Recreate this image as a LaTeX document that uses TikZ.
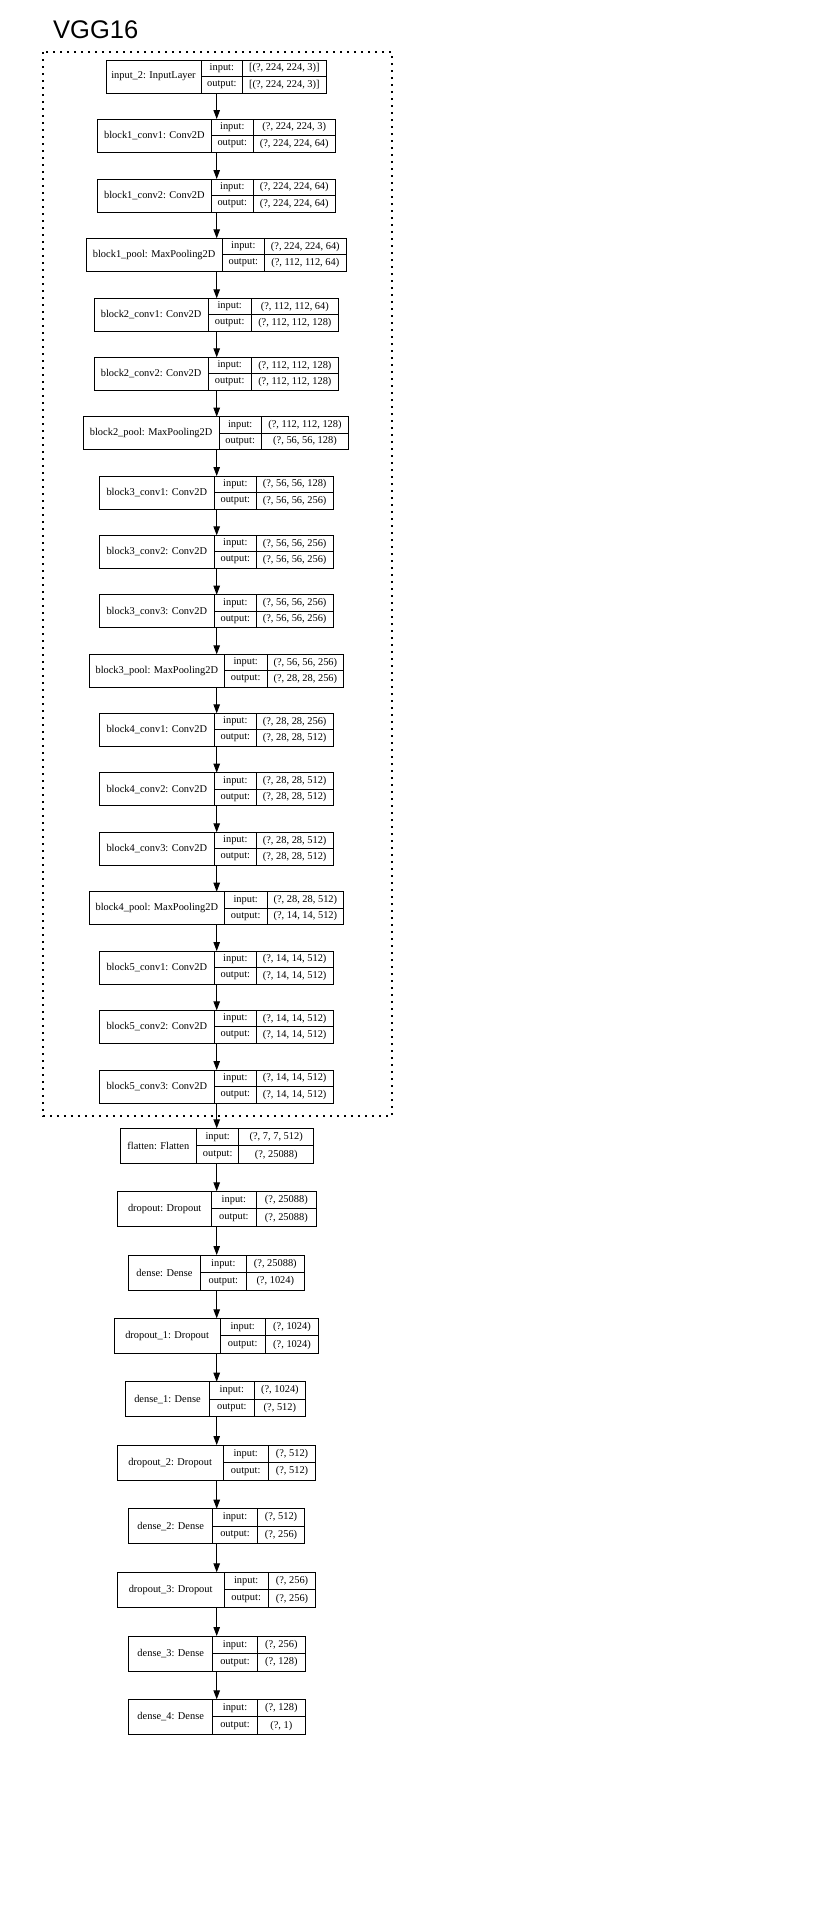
\documentclass[tikz,border=0pt]{standalone}
\usepackage{fontspec}
\setmainfont{Liberation Serif}
\setsansfont{Liberation Sans}
\usetikzlibrary{arrows.meta}
\newcommand\myrecH{33}
\newcommand\mkrec[9]{%
  \pgfmathsetmacro\myrT{-#2}%
  \pgfmathsetmacro\myrB{-#2-\myrecH}%
  \pgfmathsetmacro\myrM{-#2-\myrecH/2}%
  \pgfmathsetmacro\myrU{-#2-\myrecH/4}%
  \pgfmathsetmacro\myrL{-#2-3*\myrecH/4}%
  \pgfmathsetmacro\myrW{#6-#3}%
  \node[recbox, minimum width=\myrW pt, minimum height=\myrecH pt, anchor=north west] (#1) at (#3,\myrT) {};
  \draw[recline] (#4,\myrT) -- (#4,\myrB) (#5,\myrT) -- (#5,\myrB) (#4,\myrM) -- (#6,\myrM);
  \node[rectxt] (#1-l) at ({(#3+#4)/2},\myrM) {#7};
  \node[rectxt] (#1-i) at ({(#4+#5)/2},\myrU) {input:};
  \node[rectxt] (#1-o) at ({(#4+#5)/2},\myrL) {output:};
  \node[rectxt] (#1-iv) at ({(#5+#6)/2},\myrU) {#8};
  \node[rectxt] (#1-ov) at ({(#5+#6)/2},\myrL) {#9};
}
\begin{document}
\begin{tikzpicture}[x=1pt,y=1pt,
  recbox/.style={draw, line width=0.9pt, inner sep=0pt, outer sep=0pt},
  recline/.style={line width=0.8pt},
  rectxt/.style={inner sep=0pt, font=\fontsize{10.4}{12}\selectfont},
  arr/.style={-{Triangle[length=9pt,width=6.5pt]}, line width=0.9pt},
  dotbox/.style={line width=1.8pt, dash pattern=on 1.8pt off 5.2pt},
  titletxt/.style={inner sep=0pt, anchor=base west, font=\sffamily\fontsize{25.5}{30}\selectfont}]
\useasboundingbox[fill=white] (0,0) rectangle (816,-1920);
\node[titletxt] (title) at (53,-38) {VGG16};
\draw[dotbox] (43,-52) rectangle (392,-1116);
\coordinate (axis) at (216.7,0);
% inner model
\mkrec{in2}{60}{106}{201}{242.7}{326}{input\_2: InputLayer}{[(?, 224, 224, 3)]}{[(?, 224, 224, 3)]}
\mkrec{b1c1}{119}{97.3}{211.5}{253}{335.5}{block1\_conv1: Conv2D}{(?, 224, 224, 3)}{(?, 224, 224, 64)}
\mkrec{b1c2}{179}{97.3}{211.5}{253}{335.5}{block1\_conv2: Conv2D}{(?, 224, 224, 64)}{(?, 224, 224, 64)}
\mkrec{b1p}{238.3}{86}{222.3}{264.3}{346.3}{block1\_pool: MaxPooling2D}{(?, 224, 224, 64)}{(?, 112, 112, 64)}
\mkrec{b2c1}{298.3}{94}{208.3}{251}{338.7}{block2\_conv1: Conv2D}{(?, 112, 112, 64)}{(?, 112, 112, 128)}
\mkrec{b2c2}{357.3}{94}{208.3}{251}{338.7}{block2\_conv2: Conv2D}{(?, 112, 112, 128)}{(?, 112, 112, 128)}
\mkrec{b2p}{416.7}{83.3}{219}{261.3}{348.7}{block2\_pool: MaxPooling2D}{(?, 112, 112, 128)}{(?, 56, 56, 128)}
\mkrec{b3c1}{476}{99.3}{214.3}{256.3}{333}{block3\_conv1: Conv2D}{(?, 56, 56, 128)}{(?, 56, 56, 256)}
\mkrec{b3c2}{535.3}{99.3}{214.3}{256.3}{333}{block3\_conv2: Conv2D}{(?, 56, 56, 256)}{(?, 56, 56, 256)}
\mkrec{b3c3}{594.7}{99.3}{214.3}{256.3}{333}{block3\_conv3: Conv2D}{(?, 56, 56, 256)}{(?, 56, 56, 256)}
\mkrec{b3p}{654.3}{89.3}{224.3}{267}{343.7}{block3\_pool: MaxPooling2D}{(?, 56, 56, 256)}{(?, 28, 28, 256)}
\mkrec{b4c1}{713.3}{99.3}{214.3}{256.3}{333}{block4\_conv1: Conv2D}{(?, 28, 28, 256)}{(?, 28, 28, 512)}
\mkrec{b4c2}{772.7}{99.3}{214.3}{256.3}{333}{block4\_conv2: Conv2D}{(?, 28, 28, 512)}{(?, 28, 28, 512)}
\mkrec{b4c3}{832.3}{99.3}{214.3}{256.3}{333}{block4\_conv3: Conv2D}{(?, 28, 28, 512)}{(?, 28, 28, 512)}
\mkrec{b4p}{891.7}{89.3}{224.3}{267}{343.7}{block4\_pool: MaxPooling2D}{(?, 28, 28, 512)}{(?, 14, 14, 512)}
\mkrec{b5c1}{951}{99.3}{214.3}{256.3}{333}{block5\_conv1: Conv2D}{(?, 14, 14, 512)}{(?, 14, 14, 512)}
\mkrec{b5c2}{1010.3}{99.3}{214.3}{256.3}{333}{block5\_conv2: Conv2D}{(?, 14, 14, 512)}{(?, 14, 14, 512)}
\mkrec{b5c3}{1070}{99.3}{214.3}{256.3}{333}{block5\_conv3: Conv2D}{(?, 14, 14, 512)}{(?, 14, 14, 512)}
% top layers
\renewcommand\myrecH{35}
\mkrec{flat}{1128.3}{120}{196.7}{238.7}{313.7}{flatten: Flatten}{(?, 7, 7, 512)}{(?, 25088)}
\mkrec{drop}{1191.3}{117.7}{211.7}{256}{316.7}{dropout: Dropout}{(?, 25088)}{(?, 25088)}
\mkrec{dense}{1255}{128.7}{200.3}{246.3}{304.3}{dense: Dense}{(?, 25088)}{(?, 1024)}
\mkrec{dropa}{1318.3}{114.3}{220}{265.3}{318.7}{dropout\_1: Dropout}{(?, 1024)}{(?, 1024)}
\mkrec{densea}{1381.7}{125.7}{209.3}{254.3}{305.5}{dense\_1: Dense}{(?, 1024)}{(?, 512)}
\mkrec{dropb}{1445}{117.3}{223}{268.3}{315.7}{dropout\_2: Dropout}{(?, 512)}{(?, 512)}
\mkrec{denseb}{1508.7}{128.7}{212.7}{257.3}{304.7}{dense\_2: Dense}{(?, 512)}{(?, 256)}
\mkrec{dropc}{1572.3}{117.3}{224}{268.3}{315.7}{dropout\_3: Dropout}{(?, 256)}{(?, 256)}
\mkrec{densec}{1636}{128.7}{212.7}{257.3}{305.3}{dense\_3: Dense}{(?, 256)}{(?, 128)}
\mkrec{densed}{1699.3}{128.7}{212.7}{257.3}{305.3}{dense\_4: Dense}{(?, 128)}{(?, 1)}
% connectors
\foreach \a/\b in {in2/b1c1, b1c1/b1c2, b1c2/b1p, b1p/b2c1, b2c1/b2c2, b2c2/b2p,
  b2p/b3c1, b3c1/b3c2, b3c2/b3c3, b3c3/b3p, b3p/b4c1, b4c1/b4c2, b4c2/b4c3,
  b4c3/b4p, b4p/b5c1, b5c1/b5c2, b5c2/b5c3, b5c3/flat, flat/drop, drop/dense,
  dense/dropa, dropa/densea, densea/dropb, dropb/denseb, denseb/dropc,
  dropc/densec, densec/densed}
  \draw[arr] (\a.south -| axis) -- (\b.north -| axis);
\end{tikzpicture}
\end{document}
